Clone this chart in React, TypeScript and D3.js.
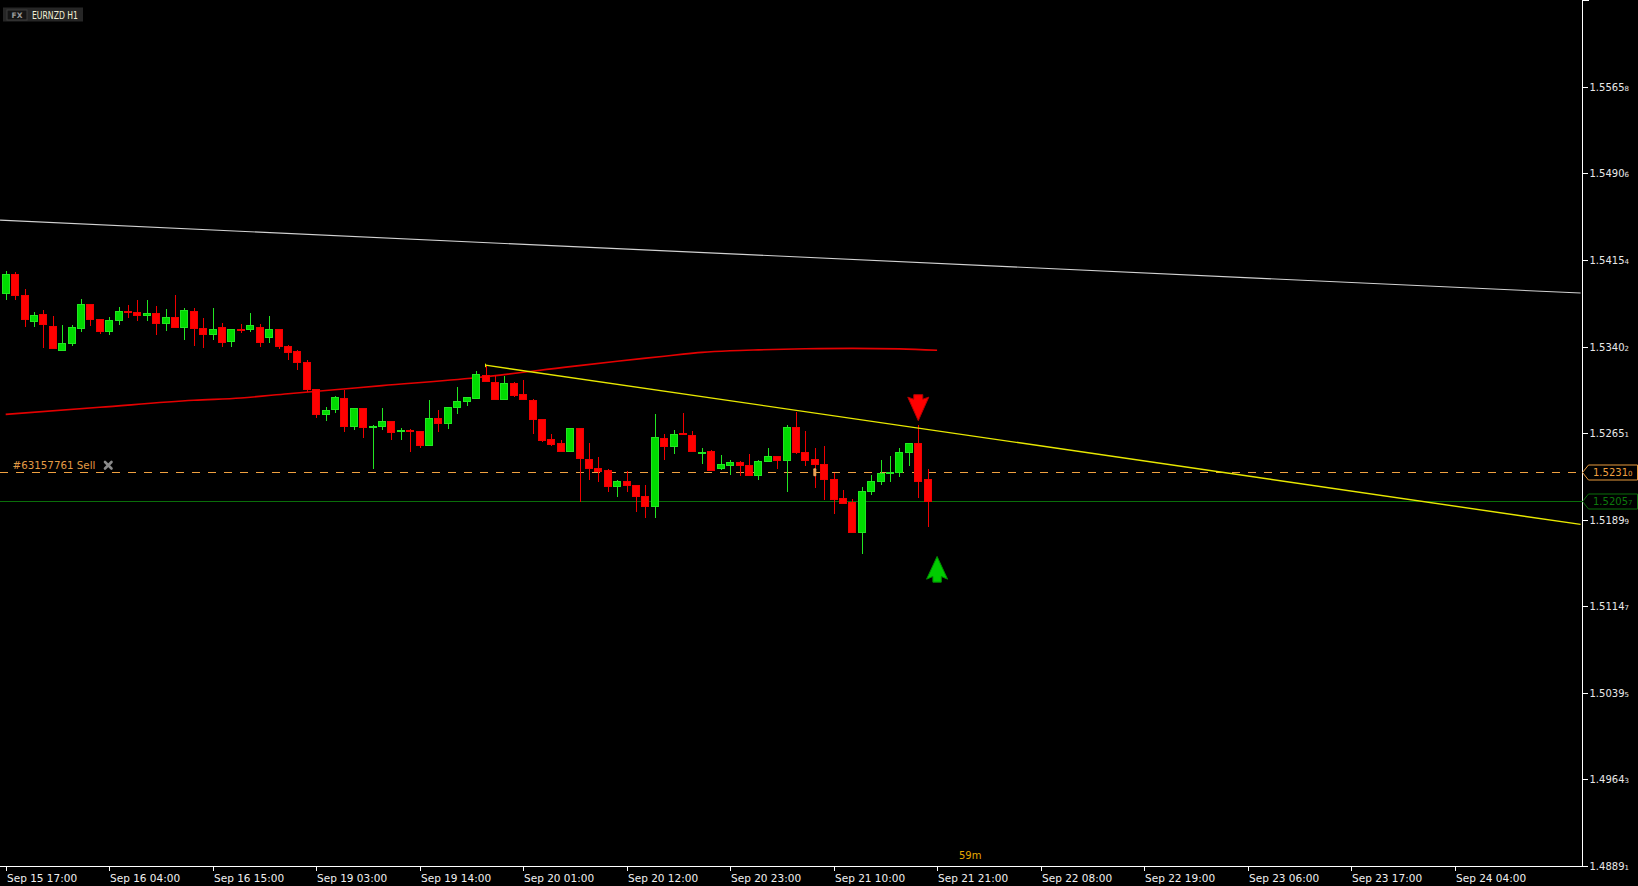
import React from 'react';
import * as d3 from 'd3';

const W = 1638;
const H = 886;
const AXIS_X = 1582.5;
const AXIS_Y = 866;
const FONT = '"DejaVu Sans", Tahoma, sans-serif';

// Time labels, one every 11 hourly bars starting at bar 0
const timeLabels = [
  'Sep 15 17:00', 'Sep 16 04:00', 'Sep 16 15:00', 'Sep 19 03:00', 'Sep 19 14:00',
  'Sep 20 01:00', 'Sep 20 12:00', 'Sep 20 23:00', 'Sep 21 10:00', 'Sep 21 21:00',
  'Sep 22 08:00', 'Sep 22 19:00', 'Sep 23 06:00', 'Sep 23 17:00', 'Sep 24 04:00',
];
const barsPerLabel = 11;

const priceLabels = [
  '1.55658', '1.54906', '1.54154', '1.53402', '1.52651',
  '1.51899', '1.51147', '1.50395', '1.49643', '1.48891',
];

// EURNZD H1 candles: open, high, low, close
const candles: [number, number, number, number][] = [
  [1.53862, 1.54059, 1.53810, 1.54024],
  [1.54024, 1.54050, 1.53802, 1.53845],
  [1.53842, 1.53903, 1.53568, 1.53637],
  [1.53620, 1.53698, 1.53568, 1.53669],
  [1.53677, 1.53721, 1.53386, 1.53597],
  [1.53573, 1.53669, 1.53386, 1.53386],
  [1.53371, 1.53591, 1.53371, 1.53426],
  [1.53429, 1.53591, 1.53403, 1.53565],
  [1.53562, 1.53816, 1.53524, 1.53764],
  [1.53764, 1.53764, 1.53576, 1.53637],
  [1.53634, 1.53634, 1.53507, 1.53533],
  [1.53533, 1.53660, 1.53498, 1.53625],
  [1.53628, 1.53747, 1.53585, 1.53703],
  [1.53709, 1.53764, 1.53646, 1.53706],
  [1.53695, 1.53808, 1.53620, 1.53672],
  [1.53672, 1.53808, 1.53620, 1.53686],
  [1.53686, 1.53756, 1.53498, 1.53602],
  [1.53602, 1.53729, 1.53533, 1.53651],
  [1.53651, 1.53851, 1.53568, 1.53568],
  [1.53568, 1.53738, 1.53455, 1.53712],
  [1.53703, 1.53738, 1.53403, 1.53559],
  [1.53556, 1.53651, 1.53386, 1.53507],
  [1.53507, 1.53738, 1.53455, 1.53547],
  [1.53565, 1.53608, 1.53394, 1.53438],
  [1.53446, 1.53547, 1.53394, 1.53547],
  [1.53547, 1.53599, 1.53516, 1.53544],
  [1.53547, 1.53695, 1.53524, 1.53582],
  [1.53565, 1.53594, 1.53394, 1.53438],
  [1.53481, 1.53669, 1.53429, 1.53547],
  [1.53547, 1.53556, 1.53377, 1.53403],
  [1.53403, 1.53417, 1.53282, 1.53351],
  [1.53357, 1.53374, 1.53195, 1.53264],
  [1.53261, 1.53287, 1.53007, 1.53027],
  [1.53027, 1.53036, 1.52779, 1.52813],
  [1.52813, 1.52880, 1.52753, 1.52845],
  [1.52857, 1.52972, 1.52822, 1.52958],
  [1.52949, 1.53021, 1.52657, 1.52709],
  [1.52709, 1.52871, 1.52675, 1.52862],
  [1.52862, 1.52862, 1.52605, 1.52701],
  [1.52701, 1.52724, 1.52336, 1.52706],
  [1.52709, 1.52871, 1.52675, 1.52750],
  [1.52750, 1.52758, 1.52588, 1.52657],
  [1.52660, 1.52698, 1.52588, 1.52669],
  [1.52672, 1.52689, 1.52484, 1.52666],
  [1.52663, 1.52663, 1.52519, 1.52545],
  [1.52545, 1.52940, 1.52545, 1.52776],
  [1.52776, 1.52854, 1.52657, 1.52735],
  [1.52735, 1.52880, 1.52683, 1.52871],
  [1.52874, 1.53053, 1.52813, 1.52923],
  [1.52926, 1.52967, 1.52883, 1.52958],
  [1.52952, 1.53192, 1.52952, 1.53157],
  [1.53148, 1.53244, 1.53096, 1.53096],
  [1.53088, 1.53157, 1.52943, 1.52943],
  [1.52943, 1.53148, 1.52935, 1.53079],
  [1.53079, 1.53096, 1.52961, 1.52975],
  [1.52984, 1.53114, 1.52935, 1.52943],
  [1.52932, 1.52949, 1.52640, 1.52770],
  [1.52767, 1.52776, 1.52571, 1.52588],
  [1.52594, 1.52646, 1.52536, 1.52553],
  [1.52559, 1.52594, 1.52484, 1.52492],
  [1.52492, 1.52698, 1.52492, 1.52689],
  [1.52689, 1.52689, 1.52056, 1.52432],
  [1.52420, 1.52568, 1.52241, 1.52345],
  [1.52342, 1.52446, 1.52224, 1.52316],
  [1.52325, 1.52342, 1.52137, 1.52189],
  [1.52189, 1.52247, 1.52094, 1.52229],
  [1.52229, 1.52325, 1.52137, 1.52198],
  [1.52195, 1.52203, 1.51964, 1.52102],
  [1.52099, 1.52203, 1.51912, 1.52016],
  [1.52016, 1.52819, 1.51912, 1.52611],
  [1.52602, 1.52646, 1.52414, 1.52536],
  [1.52536, 1.52680, 1.52466, 1.52637],
  [1.52646, 1.52828, 1.52631, 1.52640],
  [1.52628, 1.52672, 1.52492, 1.52492],
  [1.52478, 1.52524, 1.52380, 1.52484],
  [1.52490, 1.52507, 1.52328, 1.52328],
  [1.52345, 1.52464, 1.52328, 1.52377],
  [1.52371, 1.52420, 1.52284, 1.52394],
  [1.52394, 1.52412, 1.52276, 1.52371],
  [1.52368, 1.52472, 1.52284, 1.52284],
  [1.52284, 1.52420, 1.52241, 1.52403],
  [1.52406, 1.52524, 1.52406, 1.52446],
  [1.52446, 1.52455, 1.52336, 1.52414],
  [1.52414, 1.52724, 1.52137, 1.52698],
  [1.52698, 1.52836, 1.52472, 1.52481],
  [1.52481, 1.52672, 1.52362, 1.52414],
  [1.52420, 1.52524, 1.52172, 1.52380],
  [1.52377, 1.52542, 1.52068, 1.52250],
  [1.52247, 1.52302, 1.51946, 1.52076],
  [1.52082, 1.52160, 1.52033, 1.52042],
  [1.52050, 1.52082, 1.51790, 1.51790],
  [1.51790, 1.52186, 1.51599, 1.52143],
  [1.52146, 1.52288, 1.52111, 1.52229],
  [1.52232, 1.52420, 1.52198, 1.52299],
  [1.52299, 1.52455, 1.52224, 1.52305],
  [1.52308, 1.52524, 1.52267, 1.52481],
  [1.52484, 1.52559, 1.52362, 1.52559],
  [1.52559, 1.52724, 1.52085, 1.52232],
  [1.52247, 1.52342, 1.51834, 1.52057],
];

// moving average (red), sampled along the bars
const maBars = [0, 10, 20, 25, 30, 40, 50, 60, 65, 70, 72, 74, 77, 80, 85, 90, 95, 99];
const maValues = [
  1.52813, 1.52874, 1.52935, 1.52955, 1.52992, 1.53062, 1.53131, 1.53227, 1.53274,
  1.53318, 1.53336, 1.53351, 1.53365, 1.53373, 1.53382, 1.53386, 1.53381, 1.53369,
];

// trend lines: [bar, price]
const whiteLine: [number, number][] = [[-0.6, 1.54499], [167.4, 1.53866]];
const yellowLine: [number, number][] = [[51, 1.53240], [167.4, 1.51857]];

const orderPrice = 1.5231;
const orderPriceText = '1.52310';
const orderText = '#63157761 Sell';
const orderBar = 86;
const bidPrice = 1.52057;
const bidPriceText = '1.52057';
const sellArrow = { bar: 97, price: 1.52758 };
const buyArrow = { bar: 99, price: 1.51579 };
const barTimer = '59m';
const symbolText = 'EURNZD H1';

const x = d3.scaleLinear().domain([0, 154]).range([5.7, 5.7 + 154 * 9.408]);
const y = d3.scaleLinear().domain([1.48891, 1.55658]).range([AXIS_Y, 86.7]);

const PriceText: React.FC<{ text: string; px: number; py: number; fill: string }> = ({ text, px, py, fill }) => (
  <text x={px} y={py + 3.6} fill={fill} fontSize={10} fontFamily={FONT}>
    {text.slice(0, -1)}
    <tspan fontSize={7}>{text.slice(-1)}</tspan>
  </text>
);

const PriceTag: React.FC<{ price: number; text: string; stroke: string; fill: string }> = ({ price, text, stroke, fill }) => {
  const c = Math.round(y(price)) + 0.5;
  const d = `M${AXIS_X},${c} L${AXIS_X + 6},${c - 7.5} L1637.5,${c - 7.5} L1637.5,${c + 7.5} L${AXIS_X + 6},${c + 7.5} Z`;
  return (
    <g>
      <path d={d} fill="#000" stroke={stroke} strokeWidth={1} />
      <PriceText text={text} px={1593} py={c} fill={fill} />
    </g>
  );
};

const App: React.FC = () => {
  const line = d3.line<[number, number]>().x(d => x(d[0])).y(d => y(d[1]));
  const maLine = d3.line<number>()
    .x((_, i) => x(maBars[i]))
    .y(d => y(d))
    .curve(d3.curveMonotoneX);

  const sx = x(sellArrow.bar);
  const sy = y(sellArrow.price);
  const bx = x(buyArrow.bar);
  const by = y(buyArrow.price);

  return (
    <svg
      width={W}
      height={H}
      style={{ position: 'fixed', left: 0, top: 0, background: '#000', display: 'block' }}
    >
      <defs>
        <clipPath id="plot">
          <rect x={0} y={0} width={AXIS_X} height={AXIS_Y} />
        </clipPath>
      </defs>
      <rect width={W} height={H} fill="#000" />

      {/* symbol box */}
      <rect x={3} y={7.5} width={80} height={14} fill="#262626" />
      <rect x={7} y={10} width={20} height={10} fill="#141414" stroke="#3c3c3c" />
      <text x={17} y={18} textAnchor="middle" fill="#9a9a9a" fontSize={7.5} fontWeight="bold" fontFamily={FONT}>FX</text>
      <text x={32} y={18.5} fill="#f2f0d6" fontSize={10} fontFamily={FONT} textLength={46} lengthAdjust="spacingAndGlyphs">{symbolText}</text>

      <g clipPath="url(#plot)">
        {/* white trend line */}
        <path d={line(whiteLine) || ''} fill="none" stroke="#d2d2d2" strokeWidth={1.1} />

        {/* order and bid lines */}
        <line x1={0} x2={AXIS_X} y1={Math.round(y(orderPrice)) + 0.5} y2={Math.round(y(orderPrice)) + 0.5}
          stroke="#f0a040" strokeDasharray="8 8" />
        <line x1={0} x2={AXIS_X} y1={Math.round(y(bidPrice)) + 0.5} y2={Math.round(y(bidPrice)) + 0.5}
          stroke="#0a6e0a" />

        {/* moving average */}
        <path d={maLine(maValues) || ''} fill="none" stroke="#e40000" strokeWidth={1.6} />

        {/* candles */}
        <g shapeRendering="crispEdges">
          {candles.map(([o, h, l, c], i) => {
            const cx = Math.round(x(i));
            const up = c >= o;
            const wick = up ? '#22e622' : '#f00000';
            const top = y(Math.max(o, c));
            const bot = y(Math.min(o, c));
            return (
              <g key={i}>
                <line x1={cx + 0.5} x2={cx + 0.5} y1={y(h)} y2={y(l)} stroke={wick} />
                <rect
                  x={cx - 3.5}
                  y={top}
                  width={7}
                  height={Math.max(bot - top, 1)}
                  fill={up ? '#00dc00' : '#ff0000'}
                  stroke={wick}
                />
              </g>
            );
          })}
        </g>

        {/* yellow trend line */}
        <path d={line(yellowLine) || ''} fill="none" stroke="#e8e800" strokeWidth={1.4} />
        <line x1={x(yellowLine[0][0])} x2={x(yellowLine[0][0])} y1={y(yellowLine[0][1]) - 1.5} y2={y(yellowLine[0][1]) + 2}
          stroke="#e8e800" />

        {/* order open marker */}
        <rect x={x(orderBar) - 1.5} y={y(orderPrice) - 4} width={3} height={8} rx={1} fill="#eaa255" />

        {/* sell arrow */}
        <polygon
          points={[
            [sx - 4.5, sy - 26], [sx + 4.5, sy - 26], [sx + 4.5, sy - 21.5], [sx + 10.5, sy - 23.5],
            [sx, sy], [sx - 10.5, sy - 23.5], [sx - 4.5, sy - 21.5],
          ].map(p => p.join(',')).join(' ')}
          fill="#ff0000"
          stroke="#b40000"
          strokeWidth={1}
        />
        {/* buy arrow */}
        <polygon
          points={[
            [bx, by], [bx + 10.5, by + 22.7], [bx + 4.2, by + 20], [bx + 4.2, by + 25.7],
            [bx - 4.2, by + 25.7], [bx - 4.2, by + 20], [bx - 10.5, by + 22.7],
          ].map(p => p.join(',')).join(' ')}
          fill="#00cc00"
          stroke="#008c00"
          strokeWidth={1}
        />
      </g>

      {/* order label */}
      <text x={12.5} y={469} fill="#e39b45" fontSize={10.3} fontFamily={FONT}>{orderText}</text>
      <g stroke="#8a8a8a" strokeWidth={2.6} strokeLinecap="round">
        <line x1={105} y1={462} x2={111.5} y2={468.5} />
        <line x1={111.5} y1={462} x2={105} y2={468.5} />
      </g>

      {/* bar timer */}
      <text x={959} y={858.5} fill="#e6a800" fontSize={10} fontFamily={FONT}>{barTimer}</text>

      {/* axes */}
      <g shapeRendering="crispEdges" stroke="#fff">
        <line x1={AXIS_X} x2={AXIS_X} y1={0} y2={AXIS_Y + 0.5} />
        <line x1={0} x2={AXIS_X} y1={AXIS_Y + 0.5} y2={AXIS_Y + 0.5} />
        <line x1={AXIS_X} x2={AXIS_X + 6} y1={0.5} y2={0.5} />
        {priceLabels.map(p => (
          <line key={p} x1={AXIS_X} x2={AXIS_X + 5} y1={Math.round(y(+p)) + 0.5} y2={Math.round(y(+p)) + 0.5} />
        ))}
        {timeLabels.map((t, i) => {
          const tx = Math.round(x(i * barsPerLabel)) + 0.5;
          return <line key={t} x1={tx} x2={tx} y1={AXIS_Y} y2={AXIS_Y + 5} />;
        })}
      </g>
      {priceLabels.map(p => (
        <PriceText key={p} text={p} px={1589.5} py={Math.round(y(+p)) + 0.5} fill="#e8e8e8" />
      ))}
      {timeLabels.map((t, i) => (
        <text key={t} x={Math.round(x(i * barsPerLabel)) + 1} y={881.5} fill="#f0f0f0" fontSize={10.5} fontFamily={FONT}>
          {t}
        </text>
      ))}

      {/* price tags */}
      <PriceTag price={orderPrice} text={orderPriceText} stroke="#e89a3c" fill="#f0a040" />
      <PriceTag price={bidPrice} text={bidPriceText} stroke="#0a6e0a" fill="#0c7a0c" />
    </svg>
  );
};

export default App;
